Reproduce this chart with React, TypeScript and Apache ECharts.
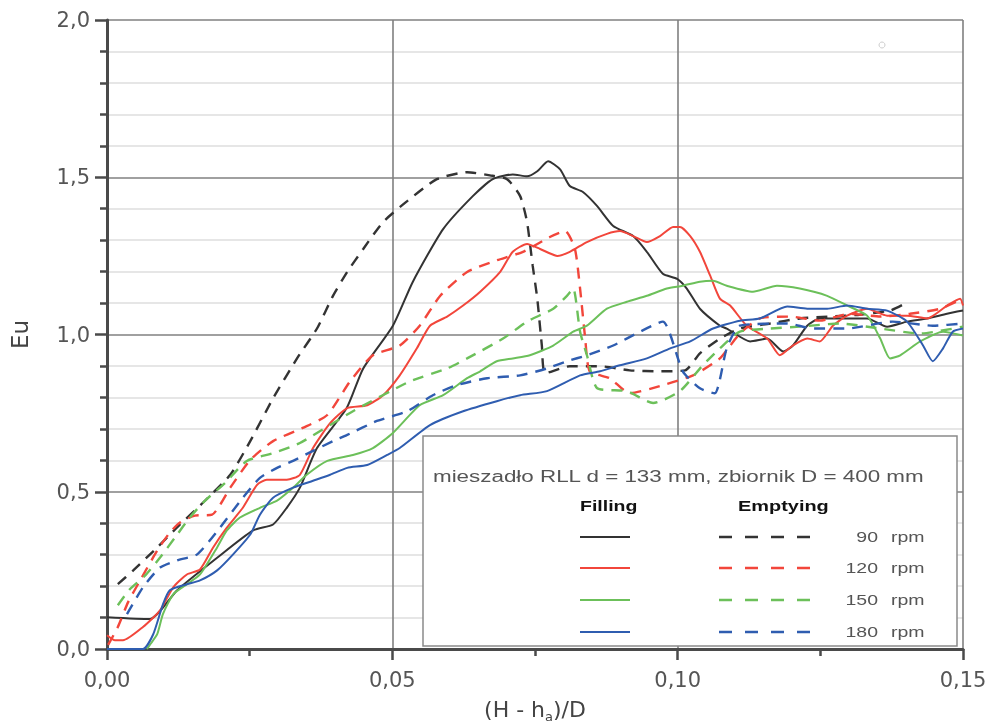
import React, { useEffect, useRef } from "react";
import * as echarts from "echarts";

// Filling (solid) and Emptying (dashed) curves: [(H - h)/D, Eu]
const fill90: [number, number][] = [
  [0, 0.101], [0.0075, 0.095], [0.0123, 0.187], [0.0193, 0.29], [0.0256, 0.377], [0.0291, 0.396],
  [0.0315, 0.449], [0.0338, 0.513], [0.0368, 0.639], [0.042, 0.766], [0.0449, 0.892], [0.0501, 1.028],
  [0.0536, 1.168], [0.0589, 1.335], [0.0641, 1.44], [0.0676, 1.494], [0.0711, 1.509], [0.0736, 1.503],
  [0.0754, 1.519], [0.0773, 1.551], [0.0794, 1.525], [0.0811, 1.472], [0.0834, 1.453], [0.0859, 1.408],
  [0.0887, 1.345], [0.0922, 1.313], [0.0946, 1.263], [0.0974, 1.193], [0.0999, 1.177], [0.1016, 1.146],
  [0.1039, 1.082], [0.1074, 1.028], [0.1086, 1.019], [0.1127, 0.978], [0.1157, 0.987], [0.1185, 0.946],
  [0.1202, 0.965], [0.1227, 1.028], [0.1249, 1.051], [0.1297, 1.051], [0.1332, 1.051], [0.1367, 1.025],
  [0.1402, 1.041], [0.1437, 1.051], [0.1472, 1.066], [0.15, 1.076],
];
const empty90: [number, number][] = [
  [0.0019, 0.206], [0.0046, 0.25], [0.0088, 0.323], [0.0128, 0.396], [0.0168, 0.465], [0.0216, 0.554],
  [0.0251, 0.661], [0.0291, 0.797], [0.0333, 0.924], [0.0368, 1.019], [0.0396, 1.123], [0.0421, 1.199],
  [0.0449, 1.272], [0.0484, 1.358], [0.0526, 1.424], [0.0578, 1.494], [0.0631, 1.516], [0.0671, 1.506],
  [0.0701, 1.494], [0.0724, 1.44], [0.0736, 1.358], [0.0746, 1.218], [0.0754, 1.114], [0.0762, 0.965],
  [0.0768, 0.877], [0.0811, 0.899], [0.0864, 0.899], [0.0916, 0.886], [0.0969, 0.883], [0.1013, 0.886],
  [0.1039, 0.94], [0.1074, 0.987], [0.1109, 1.019], [0.1162, 1.035], [0.1214, 1.051], [0.1267, 1.057],
  [0.1319, 1.063], [0.1372, 1.076], [0.1398, 1.098],
];
const fill120: [number, number][] = [
  [0, 0.044], [0.0014, 0.028], [0.0028, 0.028], [0.0063, 0.07], [0.0093, 0.123], [0.0116, 0.196],
  [0.014, 0.237], [0.0163, 0.253], [0.0186, 0.323], [0.021, 0.386], [0.0238, 0.449], [0.0263, 0.522],
  [0.028, 0.538], [0.0315, 0.538], [0.0338, 0.554], [0.0361, 0.639], [0.0391, 0.718], [0.0421, 0.766],
  [0.0456, 0.775], [0.0484, 0.807], [0.0513, 0.87], [0.0543, 0.956], [0.0566, 1.028], [0.0596, 1.057],
  [0.0624, 1.092], [0.0654, 1.136], [0.0689, 1.199], [0.0711, 1.263], [0.0736, 1.288], [0.0759, 1.272],
  [0.0789, 1.25], [0.0811, 1.263], [0.0841, 1.294], [0.0876, 1.32], [0.0899, 1.329], [0.0922, 1.313],
  [0.0946, 1.294], [0.0969, 1.313], [0.0992, 1.342], [0.1004, 1.342], [0.1022, 1.313], [0.1039, 1.263],
  [0.1057, 1.187], [0.1074, 1.114], [0.1092, 1.092], [0.1121, 1.028], [0.1157, 0.987], [0.1179, 0.934],
  [0.1202, 0.965], [0.1227, 0.987], [0.1249, 0.978], [0.1272, 1.028], [0.1297, 1.06], [0.1332, 1.082],
  [0.1367, 1.06], [0.1402, 1.06], [0.1437, 1.051], [0.1472, 1.092], [0.1495, 1.114], [0.15, 1.092],
];
const empty120: [number, number][] = [
  [0.0002, 0.013], [0.0019, 0.07], [0.0037, 0.149], [0.0058, 0.218], [0.0088, 0.313], [0.011, 0.37],
  [0.0128, 0.402], [0.0154, 0.424], [0.0184, 0.427], [0.0216, 0.513], [0.0251, 0.601], [0.0291, 0.661],
  [0.0343, 0.703], [0.0386, 0.744], [0.0426, 0.851], [0.0466, 0.934], [0.0513, 0.965], [0.0548, 1.028],
  [0.0584, 1.123], [0.0631, 1.199], [0.068, 1.234], [0.0729, 1.263], [0.0776, 1.31], [0.0803, 1.329],
  [0.082, 1.272], [0.0829, 1.146], [0.0838, 0.987], [0.0846, 0.883], [0.0881, 0.861], [0.0916, 0.813],
  [0.0974, 0.839], [0.1027, 0.87], [0.1074, 0.924], [0.1109, 1.003], [0.1144, 1.051], [0.1197, 1.057],
  [0.1249, 1.044], [0.1302, 1.066], [0.1355, 1.057], [0.1407, 1.066], [0.146, 1.082], [0.15, 1.114],
];
const fill150: [number, number][] = [
  [0.007, 0], [0.0075, 0.013], [0.0088, 0.047], [0.0098, 0.111], [0.0116, 0.174], [0.014, 0.206],
  [0.0163, 0.237], [0.0193, 0.323], [0.021, 0.377], [0.0233, 0.418], [0.0268, 0.449], [0.0298, 0.472],
  [0.0326, 0.513], [0.035, 0.554], [0.0386, 0.598], [0.0431, 0.617], [0.0466, 0.639], [0.0501, 0.687],
  [0.0548, 0.775], [0.0589, 0.807], [0.0631, 0.861], [0.0654, 0.883], [0.0683, 0.915], [0.0711, 0.924],
  [0.0741, 0.934], [0.0782, 0.965], [0.0817, 1.009], [0.0841, 1.028], [0.0876, 1.082], [0.0911, 1.104],
  [0.0946, 1.123], [0.0981, 1.146], [0.1009, 1.155], [0.1039, 1.168], [0.1062, 1.171], [0.1086, 1.155],
  [0.1132, 1.136], [0.1174, 1.155], [0.1214, 1.146], [0.1262, 1.123], [0.1297, 1.092], [0.1332, 1.06],
  [0.1355, 0.987], [0.1372, 0.924], [0.139, 0.934], [0.1425, 0.978], [0.1465, 1.009], [0.15, 0.997],
];
const empty150: [number, number][] = [
  [0.0019, 0.139], [0.004, 0.19], [0.0067, 0.234], [0.0093, 0.291], [0.0119, 0.354], [0.0145, 0.418],
  [0.0172, 0.472], [0.0207, 0.528], [0.0245, 0.598], [0.0291, 0.623], [0.0338, 0.655], [0.0431, 0.756],
  [0.0531, 0.851], [0.0596, 0.892], [0.0631, 0.924], [0.0694, 0.987], [0.0736, 1.041], [0.0782, 1.082],
  [0.0806, 1.123], [0.0817, 1.146], [0.0829, 1.009], [0.0841, 0.934], [0.0859, 0.829], [0.0911, 0.82],
  [0.0957, 0.782], [0.1004, 0.82], [0.1044, 0.902], [0.1074, 0.956], [0.1109, 1.009], [0.1162, 1.019],
  [0.1214, 1.025], [0.1284, 1.035], [0.1355, 1.019], [0.1425, 1.003], [0.15, 1.025],
];
const fill180: [number, number][] = [
  [0, 0], [0.0063, 0], [0.0081, 0.047], [0.0098, 0.142], [0.011, 0.187], [0.014, 0.206],
  [0.0163, 0.218], [0.0193, 0.25], [0.0221, 0.301], [0.0251, 0.364], [0.0268, 0.427], [0.0291, 0.481],
  [0.0326, 0.513], [0.0361, 0.535], [0.0391, 0.554], [0.0421, 0.576], [0.0456, 0.585], [0.0491, 0.617],
  [0.0513, 0.639], [0.0566, 0.712], [0.0624, 0.756], [0.0683, 0.788], [0.0724, 0.807], [0.0771, 0.82],
  [0.0829, 0.87], [0.0864, 0.883], [0.0899, 0.902], [0.0946, 0.924], [0.0987, 0.956], [0.1022, 0.978],
  [0.1062, 1.019], [0.1109, 1.044], [0.1144, 1.051], [0.1192, 1.089], [0.1227, 1.082], [0.1262, 1.082],
  [0.1297, 1.092], [0.1332, 1.082], [0.1367, 1.076], [0.1402, 1.041], [0.143, 0.965], [0.1447, 0.915],
  [0.1465, 0.956], [0.1482, 1.009], [0.15, 1.019],
];
const empty180: [number, number][] = [
  [0.0035, 0.111], [0.0063, 0.196], [0.0093, 0.259], [0.0123, 0.282], [0.0158, 0.301], [0.0198, 0.386],
  [0.0238, 0.481], [0.0268, 0.544], [0.0298, 0.576], [0.0326, 0.598], [0.0361, 0.63], [0.0396, 0.661],
  [0.042, 0.68], [0.0473, 0.725], [0.0526, 0.756], [0.0571, 0.807], [0.0613, 0.839], [0.0666, 0.861],
  [0.0724, 0.87], [0.0771, 0.892], [0.0806, 0.915], [0.0841, 0.934], [0.0887, 0.965], [0.0934, 1.009],
  [0.0974, 1.041], [0.1009, 0.883], [0.1039, 0.829], [0.1065, 0.813], [0.1086, 0.956], [0.1109, 1.028],
  [0.1192, 1.035], [0.1237, 1.019], [0.1297, 1.019], [0.1377, 1.041], [0.1447, 1.028], [0.15, 1.035],
];

const speeds = ["90", "120", "150", "180"];
const colors = ["#333333", "#f2463b", "#6cc05a", "#2f5db0"];
const fillingSets = [fill90, fill120, fill150, fill180];
const emptyingSets = [empty90, empty120, empty150, empty180];

const titleText = "mieszadło RLL d = 133 mm, zbiornik D = 400 mm";

const App: React.FC = () => {
  const ref = useRef<HTMLDivElement>(null);

  useEffect(() => {
    if (!ref.current) return;
    const chart = echarts.init(ref.current, undefined, { renderer: "svg" });

    const series: any[] = [];
    speeds.forEach((s, i) => {
      series.push({
        name: `${s} rpm filling`,
        type: "line",
        data: fillingSets[i],
        showSymbol: false,
        smooth: 0.2,
        lineStyle: { color: colors[i], width: 2 },
      });
      series.push({
        name: `${s} rpm emptying`,
        type: "line",
        data: emptyingSets[i],
        showSymbol: false,
        smooth: 0.2,
        lineStyle: { color: colors[i], width: 2.4, type: [11, 8] },
      });
    });

    const font = "'Liberation Sans', Arial, sans-serif";
    const lx = 423, ly = 436, lw = 534, lh = 210;
    const rowsY = [537, 568, 600, 632];
    const graphics: any[] = [
      {
        type: "rect",
        shape: { x: lx, y: ly, width: lw, height: lh },
        style: { fill: "#fff", stroke: "#8a8a8a", lineWidth: 1.5 },
        z: 10,
      },
      {
        type: "text",
        x: 433,
        y: 476,
        scaleX: 1.4,
        style: { text: titleText, fontSize: 16, fontFamily: font, fill: "#555", textVerticalAlign: "middle" },
        z: 11,
      },
      {
        type: "text",
        x: 580,
        y: 506,
        scaleX: 1.3,
        style: { text: "Filling", fontSize: 15, fontWeight: "bold", fontFamily: font, fill: "#111", textVerticalAlign: "middle" },
        z: 11,
      },
      {
        type: "text",
        x: 738,
        y: 506,
        scaleX: 1.33,
        style: { text: "Emptying", fontSize: 15, fontWeight: "bold", fontFamily: font, fill: "#111", textVerticalAlign: "middle" },
        z: 11,
      },
      {
        type: "circle",
        shape: { cx: 882, cy: 45, r: 3 },
        style: { fill: "none", stroke: "#ccc", lineWidth: 1 },
      },
    ];
    speeds.forEach((s, i) => {
      const y = rowsY[i];
      graphics.push({
        type: "line",
        shape: { x1: 580, y1: y, x2: 630, y2: y },
        style: { stroke: colors[i], lineWidth: 2 },
        z: 11,
      });
      graphics.push({
        type: "line",
        shape: { x1: 719, y1: y, x2: 810, y2: y },
        style: { stroke: colors[i], lineWidth: 2.4, lineDash: [13, 13] },
        z: 11,
      });
      graphics.push({
        type: "text",
        x: 878,
        y,
        scaleX: 1.3,
        style: { text: s, fontSize: 15, fontFamily: font, fill: "#555", textAlign: "right", textVerticalAlign: "middle" },
        z: 11,
      });
      graphics.push({
        type: "text",
        x: 891,
        y,
        scaleX: 1.3,
        style: { text: "rpm", fontSize: 15, fontFamily: font, fill: "#555", textVerticalAlign: "middle" },
        z: 11,
      });
    });

    const axisFont = "'DejaVu Sans', 'Liberation Sans', sans-serif";

    chart.setOption({
      animation: false,
      grid: { left: 107, top: 20, right: 34, bottom: 76 },
      xAxis: {
        type: "value",
        min: 0,
        max: 0.15,
        interval: 0.05,
        name: "{n|(H - h}{s|a}{n|)/D}",
        nameLocation: "middle",
        nameGap: 47,
        nameTextStyle: {
          rich: {
            n: { fontSize: 22, fontFamily: axisFont, color: "#444" },
            s: { fontSize: 13, fontFamily: axisFont, color: "#444", padding: [14, 0, 0, 0] },
          },
        },
        axisLine: { show: true, lineStyle: { color: "#4a4a4a", width: 3 } },
        axisTick: { show: true, length: 11, lineStyle: { color: "#4a4a4a", width: 2.5 } },
        minorTick: { show: true, splitNumber: 2, length: 7, lineStyle: { color: "#4a4a4a", width: 2.5 } },
        axisLabel: {
          margin: 20,
          fontSize: 21,
          fontFamily: axisFont,
          color: "#555",
          formatter: (v: number) => v.toFixed(2).replace(".", ","),
        },
        splitLine: { show: true, lineStyle: { color: "#808080", width: 1.6 } },
      },
      yAxis: {
        type: "value",
        min: 0,
        max: 2,
        interval: 0.5,
        name: "Eu",
        nameLocation: "middle",
        nameGap: 76,
        nameTextStyle: { fontSize: 23, fontFamily: axisFont, color: "#444" },
        axisLine: { show: true, lineStyle: { color: "#4a4a4a", width: 3 } },
        axisTick: { show: true, length: 12, lineStyle: { color: "#4a4a4a", width: 2.5 } },
        minorTick: { show: true, splitNumber: 5, length: 7, lineStyle: { color: "#4a4a4a", width: 2.5 } },
        axisLabel: {
          margin: 17,
          fontSize: 21,
          fontFamily: axisFont,
          color: "#555",
          formatter: (v: number) => v.toFixed(1).replace(".", ","),
        },
        splitLine: { show: true, lineStyle: { color: "#808080", width: 1.6 } },
        minorSplitLine: { show: true, lineStyle: { color: "#dedede", width: 1.6 } },
      },
      series,
      graphic: graphics,
    });

    return () => chart.dispose();
  }, []);

  return <div ref={ref} style={{ position: "fixed", left: 0, top: 0, width: 997, height: 728 }} />;
};

export default App;
